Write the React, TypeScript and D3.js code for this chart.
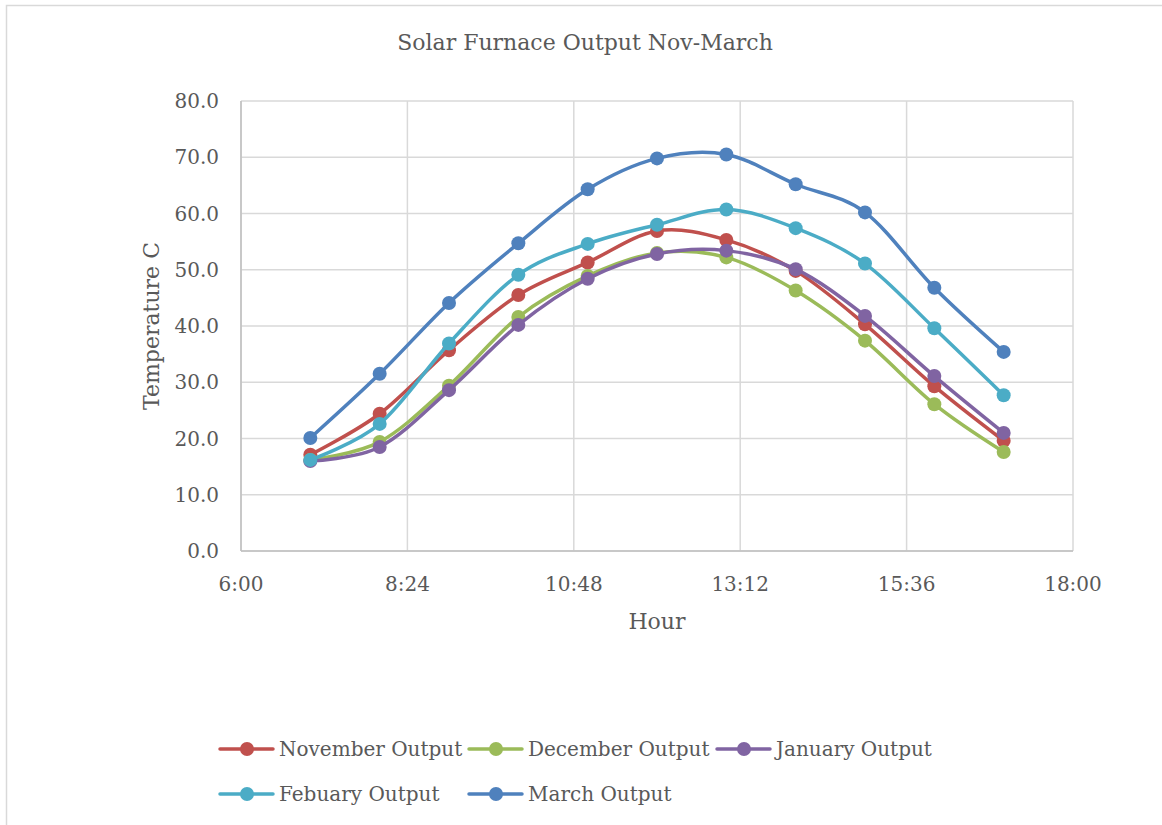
import React from "react";
import * as d3 from "d3";

const hours = [7, 8, 9, 10, 11, 12, 13, 14, 15, 16, 17];
const novemberOutput = [17.1, 24.4, 35.7, 45.5, 51.3, 56.9, 55.3, 49.8, 40.3, 29.3, 19.6];
const decemberOutput = [16.2, 19.4, 29.4, 41.6, 48.9, 53.0, 52.2, 46.3, 37.4, 26.1, 17.6];
const januaryOutput = [16.0, 18.5, 28.6, 40.2, 48.4, 52.8, 53.4, 50.1, 41.8, 31.1, 21.0];
const febuaryOutput = [16.2, 22.6, 36.9, 49.1, 54.6, 58.0, 60.7, 57.4, 51.1, 39.6, 27.7];
const marchOutput = [20.1, 31.5, 44.1, 54.7, 64.3, 69.8, 70.5, 65.2, 60.2, 46.8, 35.4];
const xTickHours = [6, 8.4, 10.8, 13.2, 15.6, 18];
const xTickLabels = ["6:00", "8:24", "10:48", "13:12", "15:36", "18:00"];
const yTicks = [0, 10, 20, 30, 40, 50, 60, 70, 80];

const seriesNames = ["November Output", "December Output", "January Output", "Febuary Output", "March Output"];
const seriesValues = [novemberOutput, decemberOutput, januaryOutput, febuaryOutput, marchOutput];
const seriesColors = ["#C0504D", "#9BBB59", "#8064A2", "#4BACC6", "#4F81BD"];

const FONT = "'DejaVu Serif', serif";
const TEXT = "#595959";

export default function App() {
  const W = 1162, H = 825;
  const left = 241, right = 1073, top = 101, bottom = 551;
  const x = d3.scaleLinear().domain([6, 18]).range([left, right]);
  const y = d3.scaleLinear().domain([0, 80]).range([bottom, top]);
  const line = d3
    .line<number>()
    .x((_, i) => x(hours[i]))
    .y((d) => y(d))
    .curve(d3.curveCatmullRom.alpha(0));

  const legendItems = [
    { i: 0, lx: 220, ly: 749 },
    { i: 1, lx: 469, ly: 749 },
    { i: 2, lx: 717, ly: 749 },
    { i: 3, lx: 220, ly: 794 },
    { i: 4, lx: 469, ly: 794 },
  ];

  return (
    <svg
      width={W}
      height={H}
      style={{ position: "absolute", left: 0, top: 0, background: "#fff" }}
      fontFamily={FONT}
    >
      <rect x={6.5} y={5.5} width={W + 10} height={H + 10} fill="#fff" stroke="#d9d9d9" strokeWidth={1.5} />
      <text x={585} y={50} textAnchor="middle" fontSize={22} fill={TEXT}>
        Solar Furnace Output Nov-March
      </text>
      {yTicks.map((t) => (
        <g key={"y" + t}>
          <line x1={left} x2={right} y1={y(t)} y2={y(t)} stroke="#d9d9d9" strokeWidth={1.5} />
          <text x={219} y={y(t) + 7} textAnchor="end" fontSize={20} fill={TEXT}>
            {t.toFixed(1)}
          </text>
        </g>
      ))}
      {xTickHours.map((h, i) => (
        <g key={"x" + i}>
          <line x1={x(h)} x2={x(h)} y1={top} y2={bottom} stroke="#d9d9d9" strokeWidth={1.5} />
          <text x={x(h)} y={591} textAnchor="middle" fontSize={20} fill={TEXT}>
            {xTickLabels[i]}
          </text>
        </g>
      ))}
      <line x1={left} x2={left} y1={top} y2={bottom} stroke="#bfbfbf" strokeWidth={1.5} />
      <line x1={left} x2={right} y1={bottom} y2={bottom} stroke="#bfbfbf" strokeWidth={1.5} />
      <text
        transform={`translate(159,${(top + bottom) / 2}) rotate(-90)`}
        textAnchor="middle"
        fontSize={22}
        fill={TEXT}
      >
        Temperature C
      </text>
      <text x={657} y={629} textAnchor="middle" fontSize={22} fill={TEXT}>
        Hour
      </text>
      {seriesValues.map((vals, si) => (
        <g key={"s" + si}>
          <path d={line(vals) || ""} fill="none" stroke={seriesColors[si]} strokeWidth={3.5} strokeLinecap="round" />
          {vals.map((v, j) => (
            <circle key={j} cx={x(hours[j])} cy={y(v)} r={7} fill={seriesColors[si]} />
          ))}
        </g>
      ))}
      {legendItems.map(({ i, lx, ly }) => (
        <g key={"l" + i}>
          <line x1={lx} x2={lx + 53} y1={ly} y2={ly} stroke={seriesColors[i]} strokeWidth={3.5} strokeLinecap="round" />
          <circle cx={lx + 27} cy={ly} r={7} fill={seriesColors[i]} />
          <text x={lx + 59} y={ly + 7} fontSize={20} fill={TEXT}>
            {seriesNames[i]}
          </text>
        </g>
      ))}
    </svg>
  );
}
